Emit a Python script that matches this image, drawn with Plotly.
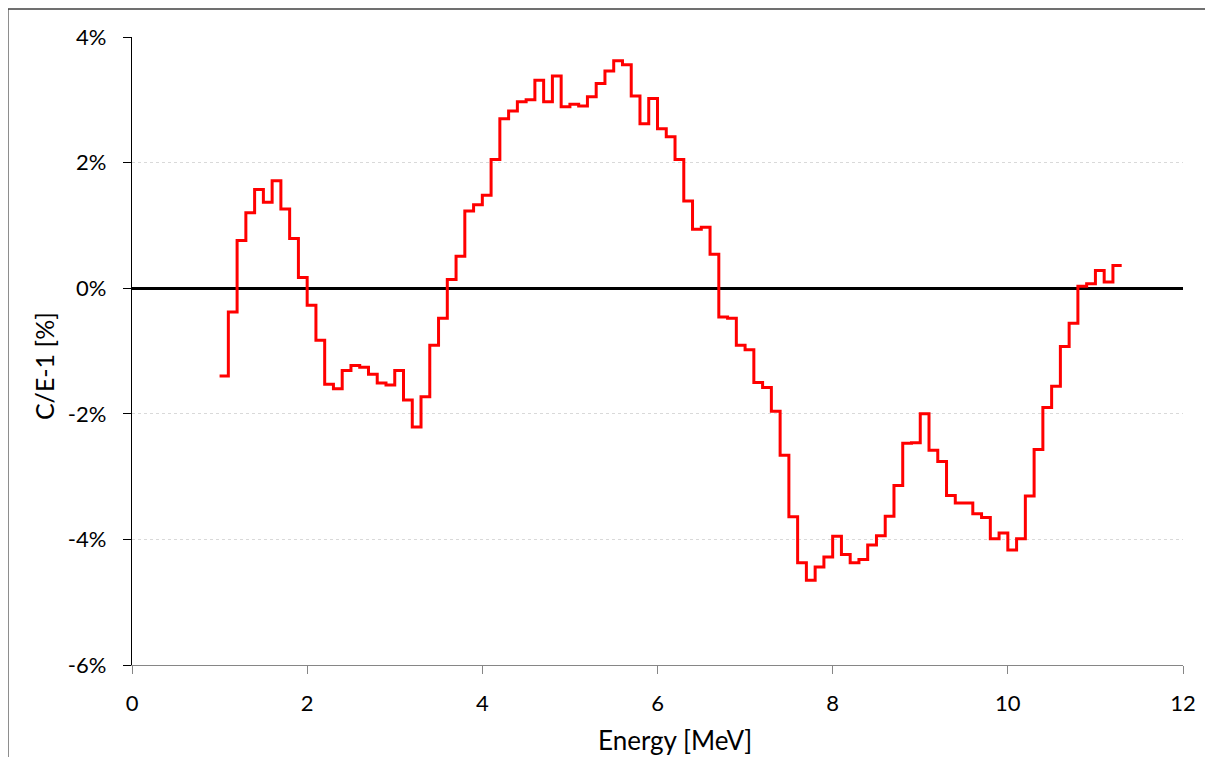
import plotly.graph_objects as go

# Bin lower edges (MeV), bin width 0.1 MeV
bin_start = 1.0
bin_width = 0.1
# C/E-1 values in percent, one per bin (1.0-1.1, 1.1-1.2, ..., 11.2-11.3)
ce_values = [
    -1.40, -0.38, 0.76, 1.20, 1.57, 1.37, 1.71, 1.26, 0.79, 0.17,
    -0.27, -0.83, -1.53, -1.60, -1.31, -1.23, -1.26, -1.37, -1.51, -1.54,
    -1.31, -1.78, -2.21, -1.73, -0.91, -0.48, 0.14, 0.51, 1.23, 1.33,
    1.48, 2.05, 2.70, 2.82, 2.97, 3.00, 3.31, 2.97, 3.38, 2.89,
    2.93, 2.90, 3.05, 3.26, 3.46, 3.62, 3.56, 3.06, 2.62, 3.02,
    2.54, 2.41, 2.05, 1.39, 0.94, 0.97, 0.54, -0.46, -0.48, -0.91,
    -0.98, -1.50, -1.58, -1.96, -2.66, -3.64, -4.37, -4.65, -4.44, -4.28,
    -3.95, -4.24, -4.37, -4.32, -4.09, -3.94, -3.63, -3.14, -2.47, -2.46,
    -2.00, -2.58, -2.76, -3.30, -3.42, -3.42, -3.59, -3.65, -3.99, -3.90,
    -4.17, -3.99, -3.31, -2.57, -1.90, -1.56, -0.93, -0.56, 0.03, 0.07,
    0.28, 0.10, 0.36,
]
x_ticks = [0, 2, 4, 6, 8, 10, 12]
y_ticks = [-6, -4, -2, 0, 2, 4]
y_tick_labels = ["-6%", "-4%", "-2%", "0%", "2%", "4%"]
x_title = "Energy [MeV]"
y_title = "C/E-1 [%]"

n = len(ce_values)
edges = [round(bin_start + i * bin_width, 4) for i in range(n + 1)]
ys = ce_values + [ce_values[-1]]

FONT = "Lato"

fig = go.Figure()
fig.add_trace(go.Scatter(
    x=edges, y=ys, mode="lines", line_shape="hv",
    line=dict(color="#ff0000", width=3), showlegend=False,
    hoverinfo="skip",
))

fig.update_layout(
    width=1200, height=749,
    margin=dict(l=124, r=22, t=29, b=92),
    paper_bgcolor="white", plot_bgcolor="white",
    font=dict(family=FONT, size=22, color="#000000"),
    xaxis=dict(
        range=[0, 12], tickvals=x_ticks, ticks="outside", ticklen=8,
        tickcolor="#868686", showline=True, linecolor="#868686", linewidth=1.3,
        showgrid=False, zeroline=False, tickfont=dict(size=22),
        ticklabelstandoff=10, fixedrange=True,
    ),
    yaxis=dict(
        range=[-6, 4], tickvals=y_ticks, ticktext=y_tick_labels,
        ticks="outside", ticklen=8, tickcolor="#000000",
        showline=True, linecolor="#000000", linewidth=1.3,
        showgrid=True, gridcolor="#d9d9d9", griddash="dot", gridwidth=1,
        zeroline=True, zerolinecolor="#000000", zerolinewidth=2.5,
        tickfont=dict(size=22), ticklabelstandoff=12,
        fixedrange=True,
    ),
)

# axis titles
fig.add_annotation(text=x_title, xref="paper", yref="paper", x=0.5167, y=-0.1194,
                   xanchor="center", yanchor="middle", showarrow=False,
                   font=dict(family=FONT, size=26))
fig.add_annotation(text=y_title, xref="paper", yref="paper", x=-0.0837, y=0.476,
                   xanchor="center", yanchor="middle", showarrow=False,
                   textangle=-90, font=dict(family=FONT, size=25))

# outer chart frame (left and top visible)
fig.add_shape(type="line", xref="paper", yref="paper",
              x0=-0.1180, x1=-0.1180, y0=1.0446, y1=-0.2,
              line=dict(color="#8c8c8c", width=2))
fig.add_shape(type="line", xref="paper", yref="paper",
              x0=-0.1180, x1=1.1, y0=1.0446, y1=1.0446,
              line=dict(color="#404040", width=1.5))

fig.write_html("out.html")
